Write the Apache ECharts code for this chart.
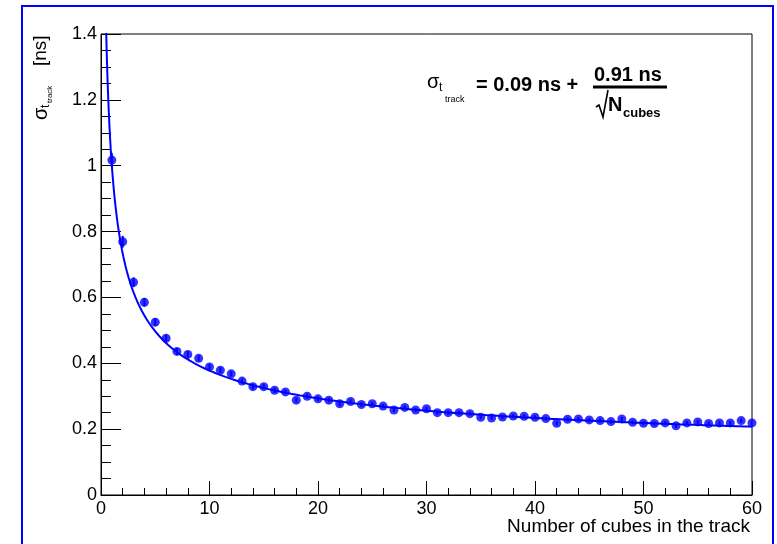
<!DOCTYPE html>
<html>
<head>
<meta charset="utf-8">
<script src="https://cdn.jsdelivr.net/npm/echarts@6/dist/echarts.min.js"></script>
<style>
html,body{margin:0;padding:0;background:#fff;}
#chart{width:777px;height:544px;}
</style>
</head>
<body>
<div id="chart"></div>
<script>
// ---- data ----
const xVals = [1,2,3,4,5,6,7,8,9,10,11,12,13,14,15,16,17,18,19,20,21,22,23,24,25,26,27,28,29,30,
               31,32,33,34,35,36,37,38,39,40,41,42,43,44,45,46,47,48,49,50,51,52,53,54,55,56,57,58,59,60];
const yVals = [1.017,0.769,0.646,0.585,0.525,0.476,0.436,0.427,0.415,0.389,
               0.379,0.368,0.346,0.329,0.329,0.318,0.313,0.288,0.300,0.292,
               0.288,0.277,0.284,0.275,0.277,0.270,0.258,0.266,0.258,0.262,
               0.250,0.250,0.250,0.247,0.236,0.234,0.237,0.240,0.239,0.236,
               0.232,0.218,0.230,0.231,0.228,0.226,0.223,0.231,0.221,0.218,
               0.217,0.219,0.210,0.219,0.222,0.217,0.219,0.219,0.226,0.219];
const yErrs = [0.022,0.018,0.015,0.013,0.012,0.011,0.010,0.010,0.009,0.009,
               0.009,0.008,0.008,0.008,0.008,0.008,0.007,0.007,0.007,0.007,
               0.007,0.007,0.007,0.007,0.006,0.006,0.006,0.006,0.006,0.006,
               0.006,0.006,0.006,0.006,0.006,0.006,0.006,0.006,0.006,0.006,
               0.006,0.006,0.006,0.006,0.006,0.006,0.006,0.006,0.006,0.006,
               0.006,0.006,0.006,0.006,0.006,0.006,0.006,0.006,0.006,0.006];
// fit parameters as printed on the chart: sigma = A + B / sqrt(N)
const fitA = 0.09;
const fitB = 0.91;
const xTickLabels = ['0','10','20','30','40','50','60'];
const yTickLabels = ['0','0.2','0.4','0.6','0.8','1','1.2','1.4'];

const BLUE = '#0000ff';
const FONT = '"Liberation Sans", Arial, Helvetica, sans-serif';

const points = xVals.map((x, i) => [x, yVals[i]]);
const errData = xVals.map((x, i) => [x, yVals[i], yErrs[i]]);
const fitLine = [];
const xStart = Math.pow(fitB / (1.42 - fitA), 2);
for (let k = 0; k <= 600; k++) {
  const x = xStart + (60 - xStart) * Math.pow(k / 600, 2);
  fitLine.push([x, fitA + fitB / Math.sqrt(x)]);
}

const chart = echarts.init(document.getElementById('chart'), null, {renderer: 'canvas'});
const option = {
  backgroundColor: '#fff',
  animation: false,
  grid: {left: 101, right: 25, top: 34, bottom: 49, show: true, borderColor: '#000', borderWidth: 1, backgroundColor: 'transparent'},
  xAxis: {
    type: 'value', min: 0, max: 60, interval: 10,
    axisLine: {show: true, onZero: false, lineStyle: {color: '#000', width: 1}},
    axisTick: {show: true, inside: true, length: 14, lineStyle: {color: '#000', width: 1}},
    minorTick: {show: true, splitNumber: 5, length: 7, lineStyle: {color: '#000', width: 1}},
    splitLine: {show: false},
    axisLabel: {fontSize: 18, color: '#000', margin: 5, fontFamily: FONT,
      formatter: v => xTickLabels[Math.round(v / 10)] || ''}
  },
  yAxis: {
    type: 'value', min: 0, max: 1.4, interval: 0.2,
    axisLine: {show: true, onZero: false, lineStyle: {color: '#000', width: 1}},
    axisTick: {show: true, inside: true, length: 20, lineStyle: {color: '#000', width: 1}},
    minorTick: {show: true, splitNumber: 4, length: 10, lineStyle: {color: '#000', width: 1}},
    splitLine: {show: false},
    axisLabel: {fontSize: 18, color: '#000', margin: 4, fontFamily: FONT,
      formatter: v => yTickLabels[Math.round(v / 0.2)] || ''}
  },
  series: [
    {
      type: 'line', data: fitLine, showSymbol: false, symbol: 'none', clip: true,
      lineStyle: {color: BLUE, width: 2}, z: 3, silent: true
    },
    {
      type: 'custom', data: errData, z: 4, silent: true, clip: true,
      renderItem: function (params, api) {
        const x = api.value(0), y = api.value(1), e = api.value(2);
        const p1 = api.coord([x, y - e]);
        const p2 = api.coord([x, y + e]);
        return {type: 'line', shape: {x1: p1[0], y1: p1[1], x2: p2[0], y2: p2[1]},
                style: {stroke: BLUE, lineWidth: 2}};
      }
    },
    {
      type: 'scatter', data: points, symbol: 'circle', symbolSize: 9,
      itemStyle: {color: BLUE}, z: 5, silent: true
    }
  ],
  graphic: [
    {type: 'rect', silent: true, z: 100,
     shape: {x: 22, y: 6, width: 751, height: 600},
     style: {fill: 'none', stroke: BLUE, lineWidth: 2}},
    // x axis title
    {type: 'text', x: 750, y: 527, silent: true,
     style: {text: 'Number of cubes in the track', font: '19px ' + FONT, fill: '#000', align: 'right', verticalAlign: 'middle'}},
    // y axis title (rotated)
    {type: 'group', x: 41, y: 120, rotation: Math.PI / 2, silent: true,
     children: [
       {type: 'text', x: 0, y: 0, style: {text: 'σ', font: '20px ' + FONT, fill: '#000', align: 'left', verticalAlign: 'middle'}},
       {type: 'text', x: 12, y: 5, style: {text: 't', font: '12px ' + FONT, fill: '#000', align: 'left', verticalAlign: 'middle'}},
       {type: 'text', x: 17, y: 9, style: {text: 'track', font: '8px ' + FONT, fill: '#000', align: 'left', verticalAlign: 'middle'}},
       {type: 'text', x: 54, y: 0, style: {text: '[ns]', font: '19px ' + FONT, fill: '#000', align: 'left', verticalAlign: 'middle'}}
     ]},
    // formula
    {type: 'text', x: 427, y: 82, silent: true,
     style: {text: 'σ', font: '20px ' + FONT, fill: '#000', align: 'left', verticalAlign: 'middle'}},
    {type: 'text', x: 439, y: 88, silent: true,
     style: {text: 't', font: '12px ' + FONT, fill: '#000', align: 'left', verticalAlign: 'middle'}},
    {type: 'text', x: 445, y: 100, silent: true,
     style: {text: 'track', font: '9px ' + FONT, fill: '#000', align: 'left', verticalAlign: 'middle'}},
    {type: 'text', x: 476, y: 85, silent: true,
     style: {text: '= 0.09 ns +', font: 'bold 20px ' + FONT, fill: '#000', align: 'left', verticalAlign: 'middle'}},
    {type: 'text', x: 594, y: 75, silent: true,
     style: {text: '0.91 ns', font: 'bold 20px ' + FONT, fill: '#000', align: 'left', verticalAlign: 'middle'}},
    {type: 'line', silent: true, shape: {x1: 593, y1: 87, x2: 667, y2: 87}, style: {stroke: '#000', lineWidth: 3}},
    {type: 'polyline', silent: true, shape: {points: [[596, 107], [599, 105], [603, 117], [608, 90]]},
     style: {stroke: '#000', lineWidth: 1.6, fill: 'none'}},
    {type: 'text', x: 608, y: 105.5, silent: true,
     style: {text: 'N', font: 'bold 20px ' + FONT, fill: '#000', align: 'left', verticalAlign: 'middle'}},
    {type: 'text', x: 623, y: 113, silent: true,
     style: {text: 'cubes', font: 'bold 13px ' + FONT, fill: '#000', align: 'left', verticalAlign: 'middle'}}
  ]
};
chart.setOption(option);
</script>
</body>
</html>
